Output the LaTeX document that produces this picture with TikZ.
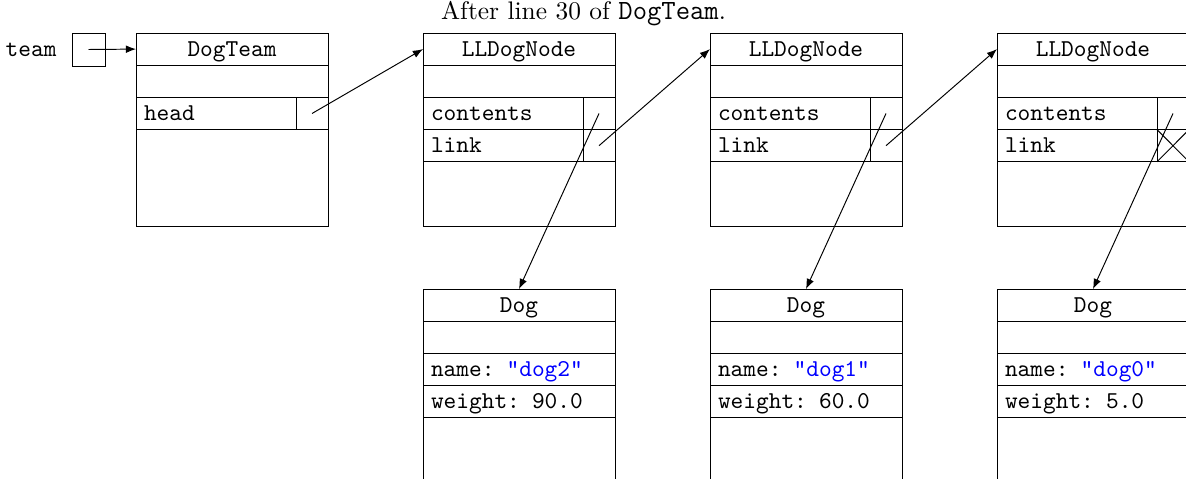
\documentclass[tikz,border=0pt]{standalone}
\usetikzlibrary{arrows.meta}
\def\pxu{0.4132pt}
\begin{document}
\begin{tikzpicture}[x=\pxu, y=-\pxu,
  hrow/.style={draw, line width=0.4pt, anchor=north west, inner sep=0pt, outer sep=0pt,
    minimum width=192*\pxu, minimum height=32.2*\pxu, font=\ttfamily,
    text height=6.6pt, text depth=0.8pt},
  frow/.style={hrow, text width=176*\pxu, align=left, inner xsep=8*\pxu},
  tall/.style={hrow, minimum height=#1*\pxu},
  cell/.style={draw, line width=0.4pt, anchor=north west, inner sep=0pt, outer sep=0pt,
    minimum width=32*\pxu, minimum height=32.2*\pxu},
  ptr/.style={-{Latex[length=4.2pt,width=3.2pt]}, line width=0.4pt}]
\useasboundingbox (0,0) rectangle (1186,479);
\clip (0,0) rectangle (1186,479);

% caption
\node[anchor=base, inner sep=0pt] (caption) at (583.5,19.3)
  {\fontsize{10.5}{12}\selectfont After line 30 of {\fontsize{11.5}{13}\selectfont\ttfamily DogTeam}.};

% team variable
\node[draw, line width=0.4pt, minimum size=33*\pxu, inner sep=0pt] (teambox) at (88.5,49.5) {};
\node[anchor=base east, inner sep=0pt, font=\ttfamily] (teamlabel) at (57,57) {team};

% DogTeam object
\node[hrow] (dtT) at (136,33) {DogTeam};
\node[hrow] (dtE) at (136,65.2) {};
\node[frow] (dtH) at (136,97.4) {head};
\node[cell] (dtHp) at (296,97.4) {};
\node[tall=96.6] (dtB) at (136,129.6) {};

% LLDogNodes and Dogs
\foreach \x/\n/\dname/\w in {423/1/dog2/90.0, 710/2/dog1/60.0, 997/3/dog0/5.0}{
  \node[hrow] (n\n T) at (\x,33) {LLDogNode};
  \node[hrow] (n\n E) at (\x,65.2) {};
  \node[frow] (n\n C) at (\x,97.4) {contents};
  \node[frow] (n\n L) at (\x,129.6) {link};
  \node[cell] (n\n Cp) at (\x+160,97.4) {};
  \node[cell] (n\n Lp) at (\x+160,129.6) {};
  \node[tall=64.4] (n\n B) at (\x,161.8) {};

  \node[hrow] (d\n T) at (\x,289) {Dog};
  \node[hrow] (d\n E) at (\x,321.2) {};
  \node[frow] (d\n N) at (\x,353.4) {name: \textcolor{blue}{"\dname"}};
  \node[frow] (d\n W) at (\x,385.6) {weight: \w};
  \node[tall=96.6] (d\n B) at (\x,417.8) {};

  \draw[ptr] (n\n Cp.center) -- (d\n T.north);
}

% null link
\draw[line width=0.4pt] (n3Lp.north west) -- (n3Lp.south east)
  (n3Lp.south west) -- (n3Lp.north east);

% pointers
\draw[ptr] (teambox.center) -- (dtT.west);
\draw[ptr] (dtHp.center) -- (n1T.west);
\draw[ptr] (n1Lp.center) -- (n2T.west);
\draw[ptr] (n2Lp.center) -- (n3T.west);
\end{tikzpicture}
\end{document}
